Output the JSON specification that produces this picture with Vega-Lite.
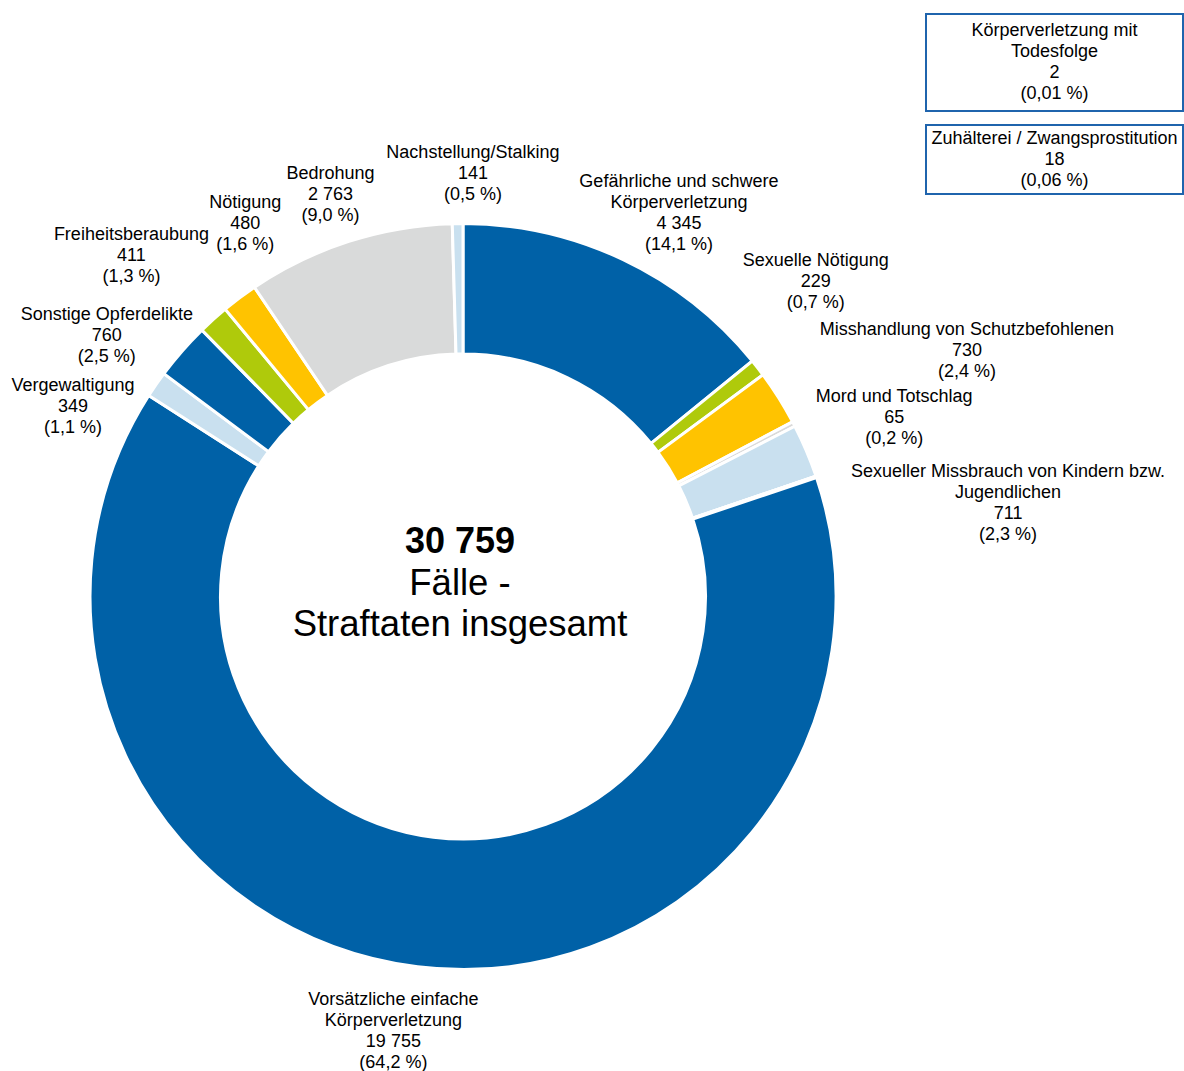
{
  "$schema": "https://vega.github.io/schema/vega-lite/v6.json",
  "padding": {"left": 0, "top": 13, "right": 0, "bottom": 0},
  "background": "white",
  "config": {
    "view": {"stroke": null},
    "text": {"font": "Liberation Sans", "fontSize": 18, "lineHeight": 21, "lineBreak": "\n", "color": "#000000", "align": "center", "baseline": "middle"},
    "locale": {"number": {"decimal": ",", "thousands": " ", "grouping": [3], "currency": ["", " €"]}}
  },
  "datasets": {
    "delikte": [
      {"idx": 1, "delikt": "Gefährliche und schwere Körperverletzung", "faelle": 4345, "label": "Gefährliche und schwere\nKörperverletzung\n4 345\n(14,1 %)"},
      {"idx": 2, "delikt": "Sexuelle Nötigung", "faelle": 229, "label": "Sexuelle Nötigung\n229\n(0,7 %)"},
      {"idx": 3, "delikt": "Misshandlung von Schutzbefohlenen", "faelle": 730, "label": "Misshandlung von Schutzbefohlenen\n730\n(2,4 %)"},
      {"idx": 4, "delikt": "Mord und Totschlag", "faelle": 65, "label": "Mord und Totschlag\n65\n(0,2 %)"},
      {"idx": 5, "delikt": "Sexueller Missbrauch von Kindern bzw. Jugendlichen", "faelle": 711, "label": "Sexueller Missbrauch von Kindern bzw.\nJugendlichen\n711\n(2,3 %)"},
      {"idx": 6, "delikt": "Körperverletzung mit Todesfolge", "faelle": 2, "label": "Körperverletzung mit\nTodesfolge\n2\n(0,01 %)"},
      {"idx": 7, "delikt": "Zuhälterei / Zwangsprostitution", "faelle": 18, "label": "Zuhälterei / Zwangsprostitution\n18\n(0,06 %)"},
      {"idx": 8, "delikt": "Vorsätzliche einfache Körperverletzung", "faelle": 19755, "label": "Vorsätzliche einfache\nKörperverletzung\n19 755\n(64,2 %)"},
      {"idx": 9, "delikt": "Vergewaltigung", "faelle": 349, "label": "Vergewaltigung\n349\n(1,1 %)"},
      {"idx": 10, "delikt": "Sonstige Opferdelikte", "faelle": 760, "label": "Sonstige Opferdelikte\n760\n(2,5 %)"},
      {"idx": 11, "delikt": "Freiheitsberaubung", "faelle": 411, "label": "Freiheitsberaubung\n411\n(1,3 %)"},
      {"idx": 12, "delikt": "Nötigung", "faelle": 480, "label": "Nötigung\n480\n(1,6 %)"},
      {"idx": 13, "delikt": "Bedrohung", "faelle": 2763, "label": "Bedrohung\n2 763\n(9,0 %)"},
      {"idx": 14, "delikt": "Nachstellung/Stalking", "faelle": 141, "label": "Nachstellung/Stalking\n141\n(0,5 %)"}
    ]
  },
  "columns": 2,
  "align": "each",
  "bounds": "flush",
  "spacing": 0,
  "concat": [
    {"width": 926, "height": 111, "data": {"values": []}, "mark": "point"},
    {
      "width": 257,
      "height": 97,
      "view": {"stroke": "#1F64AD", "strokeWidth": 2},
      "data": {"name": "delikte"},
      "transform": [{"filter": "datum.idx === 6"}],
      "mark": {"type": "text", "dy": -31.5},
      "encoding": {"text": {"field": "label", "type": "nominal"}}
    },
    {
      "width": 926,
      "height": 943,
      "data": {"name": "delikte"},
      "layer": [
        {
          "encoding": {
            "theta": {"field": "faelle", "type": "quantitative", "stack": true},
            "order": {"field": "idx", "type": "quantitative"}
          },
          "layer": [
            {
              "mark": {"type": "arc", "innerRadius": 242.5, "outerRadius": 373, "stroke": "#ffffff", "strokeWidth": 3},
              "encoding": {
                "color": {
                  "field": "delikt",
                  "type": "nominal",
                  "legend": null,
                  "scale": {
                    "domain": ["Gefährliche und schwere Körperverletzung", "Sexuelle Nötigung", "Misshandlung von Schutzbefohlenen", "Mord und Totschlag", "Sexueller Missbrauch von Kindern bzw. Jugendlichen", "Körperverletzung mit Todesfolge", "Zuhälterei / Zwangsprostitution", "Vorsätzliche einfache Körperverletzung", "Vergewaltigung", "Sonstige Opferdelikte", "Freiheitsberaubung", "Nötigung", "Bedrohung", "Nachstellung/Stalking"],
                    "range": ["#0061A7", "#AFCA0B", "#FFC300", "#D9D9D9", "#C9E0EF", "#0061A7", "#AFCA0B", "#0061A7", "#C9E0EF", "#0061A7", "#AFCA0B", "#FFC300", "#D9DADA", "#C9E0EF"]
                  }
                }
              }
            },
            {"mark": {"type": "text", "radius": 440, "dx": 27, "dy": -17.5}, "encoding": {"text": {"condition": {"test": "datum.idx === 1", "field": "label", "type": "nominal"}, "value": ""}}},
            {"mark": {"type": "text", "radius": 473, "dx": -21, "dy": -46}, "encoding": {"text": {"condition": {"test": "datum.idx === 2", "field": "label", "type": "nominal"}, "value": ""}}},
            {"mark": {"type": "text", "radius": 560, "dx": 30, "dy": 32}, "encoding": {"text": {"condition": {"test": "datum.idx === 3", "field": "label", "type": "nominal"}, "value": ""}}},
            {"mark": {"type": "text", "radius": 466, "dx": 18, "dy": 16}, "encoding": {"text": {"condition": {"test": "datum.idx === 4", "field": "label", "type": "nominal"}, "value": ""}}},
            {"mark": {"type": "text", "radius": 553, "dx": 36, "dy": 91.5}, "encoding": {"text": {"condition": {"test": "datum.idx === 5", "field": "label", "type": "nominal"}, "value": ""}}},
            {"mark": {"type": "text", "radius": 440, "dx": -16, "dy": -33.5}, "encoding": {"text": {"condition": {"test": "datum.idx === 8", "field": "label", "type": "nominal"}, "value": ""}}},
            {"mark": {"type": "text", "radius": 434, "dx": -33, "dy": 36}, "encoding": {"text": {"condition": {"test": "datum.idx === 9", "field": "label", "type": "nominal"}, "value": ""}}},
            {"mark": {"type": "text", "radius": 441, "dx": -24, "dy": 9}, "encoding": {"text": {"condition": {"test": "datum.idx === 10", "field": "label", "type": "nominal"}, "value": ""}}},
            {"mark": {"type": "text", "radius": 476, "dx": -13, "dy": -8}, "encoding": {"text": {"condition": {"test": "datum.idx === 11", "field": "label", "type": "nominal"}, "value": ""}}},
            {"mark": {"type": "text", "radius": 432, "dx": 41, "dy": -48}, "encoding": {"text": {"condition": {"test": "datum.idx === 12", "field": "label", "type": "nominal"}, "value": ""}}},
            {"mark": {"type": "text", "radius": 423, "dx": -3, "dy": -20}, "encoding": {"text": {"condition": {"test": "datum.idx === 13", "field": "label", "type": "nominal"}, "value": ""}}},
            {"mark": {"type": "text", "radius": 423, "dx": 16, "dy": -21}, "encoding": {"text": {"condition": {"test": "datum.idx === 14", "field": "label", "type": "nominal"}, "value": ""}}}
          ]
        },
        {
          "transform": [{"aggregate": [{"op": "sum", "field": "faelle", "as": "total"}]}],
          "layer": [
            {"mark": {"type": "text", "fontSize": 36, "fontWeight": "bold", "dx": -3, "dy": -54.5}, "encoding": {"text": {"field": "total", "type": "quantitative", "format": ",d"}}},
            {"mark": {"type": "text", "fontSize": 36.5, "lineHeight": 41, "dx": -3, "dy": -12.5, "text": ["Fälle -", "Straftaten insgesamt"]}, "encoding": {}}
          ]
        }
      ]
    },
    {
      "width": 257,
      "height": 69,
      "view": {"stroke": "#1F64AD", "strokeWidth": 2},
      "data": {"name": "delikte"},
      "transform": [{"filter": "datum.idx === 7"}],
      "mark": {"type": "text", "dy": -21},
      "encoding": {"text": {"field": "label", "type": "nominal"}}
    }
  ]
}
